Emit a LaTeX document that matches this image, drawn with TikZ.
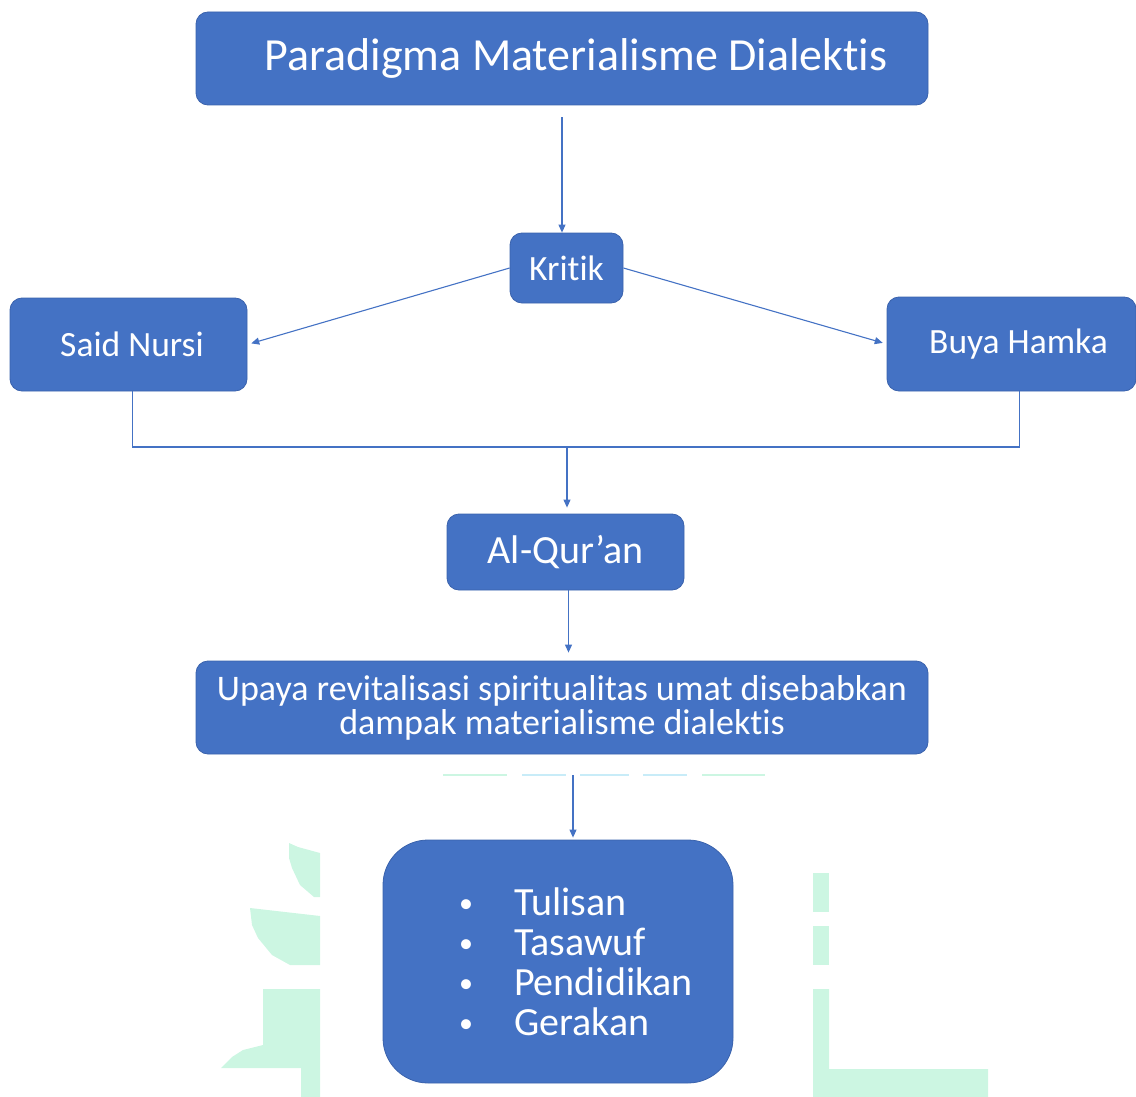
\documentclass[tikz,border=0pt]{standalone}
\usepackage{fontspec}
\setmainfont{Carlito}[RawFeature={-liga;-clig;-dlig;-calt}]
\usetikzlibrary{arrows.meta}
\definecolor{boxblue}{RGB}{68,114,196}
\definecolor{boxedge}{RGB}{58,98,172}
\definecolor{wmgreen}{RGB}{204,246,226}
\definecolor{wmcyan}{RGB}{200,236,248}
\newcommand{\listdot}{\makebox[53pt][l]{\hspace*{-2pt}\raisebox{3pt}{\fontsize{28}{28}\selectfont •}}}
\tikzset{
  box/.style={rounded corners=12pt, draw=boxedge, line width=0.8pt, fill=boxblue, text=white, align=center, inner sep=0pt},
  arr/.style={-{Triangle[length=8pt,width=7pt]}, line width=1.1pt, draw=boxblue},
  link/.style={line width=1.1pt, draw=boxblue},
  wm/.style={fill=wmgreen, draw=none},
}
\begin{document}
\begin{tikzpicture}[x=1pt,y=-1pt]
  \useasboundingbox (0,0) rectangle (1136,1097);
  % faint watermark behind the chart
  \fill[wm] (289,843) -- (298,847) -- (320,853) -- (320,897) -- (314,897) -- (300,885) -- (292,868) -- (289,858) -- cycle;
  \fill[wm] (250,908) -- (320,916) -- (320,965) -- (290,965) -- (272,955) -- (258,938) -- (252,925) -- cycle;
  \fill[wm] (263,989) -- (320,989) -- (320,1097) -- (301,1097) -- (301,1068) -- (221,1068) -- (232,1057) -- (243,1050) -- (263,1045) -- cycle;
  \fill[wm] (813,873) rectangle (829,912);
  \fill[wm] (813,926) rectangle (829,965);
  \fill[wm] (813,989) -- (829,989) -- (829,1069) -- (988,1069) -- (988,1097) -- (813,1097) -- cycle;
  \draw[wmgreen, line width=1.5pt] (443,775) -- (507,775) (702,775) -- (765,775);
  \draw[wmcyan, line width=1.5pt] (522,775) -- (566,775) (580,775) -- (629,775) (643,775) -- (687,775);

  \node[box, minimum width=732pt, minimum height=93pt, font=\fontsize{46}{50}\selectfont] (title) at (562,58.5) {\hspace*{28pt}Paradigma Materialisme Dialektis};
  \node[box, minimum width=113pt, minimum height=70pt, font=\fontsize{35.5}{40}\selectfont] (kritik) at (566.5,268) {Kritik};
  \node[box, minimum width=237pt, minimum height=93pt, font=\fontsize{35.5}{40}\selectfont] (said) at (128.5,344.5) {\hspace*{7pt}Said Nursi};
  \node[box, minimum width=249pt, minimum height=94pt, font=\fontsize{35.5}{40}\selectfont] (buya) at (1011.5,344) {\hspace*{14pt}Buya Hamka};
  \node[box, minimum width=237pt, minimum height=76pt, font=\fontsize{40}{44}\selectfont] (quran) at (565.5,552) {Al-Qur’an};
  \node[box, minimum width=732pt, minimum height=93pt, font=\fontsize{36}{34}\selectfont] (upaya) at (562,707.5) {Upaya revitalisasi spiritualitas umat disebabkan\\dampak materialisme dialektis};
  \node[box, rounded corners=45pt, minimum width=350pt, minimum height=243pt, align=left, font=\fontsize{40}{40}\selectfont] (list) at (558,961.5)
    {\hspace*{38pt}\listdot Tulisan\\
     \hspace*{38pt}\listdot Tasawuf\\
     \hspace*{38pt}\listdot Pendidikan\\
     \hspace*{38pt}\listdot Gerakan};

  \coordinate (join) at (567,447);
  \draw[arr, shorten <=12pt] (title.south) -- (title.south |- kritik.north);
  \draw[arr, shorten >=4pt] (kritik.west) -- (said.east);
  \draw[arr, shorten >=4pt] (kritik.east) -- (buya.west);
  \draw[link] ([xshift=4pt]said.south) |- (join) -| ([xshift=8pt]buya.south);
  \draw[arr, shorten >=6pt] (join) -- (join |- quran.north);
  \draw[arr, shorten >=8pt] ([xshift=3pt]quran.south) -- ([xshift=3pt]quran.south |- upaya.north);
  \draw[arr, shorten <=21pt, shorten >=2pt] ([xshift=11pt]upaya.south) -- ([xshift=11pt]upaya.south |- list.north);
\end{tikzpicture}
\end{document}
